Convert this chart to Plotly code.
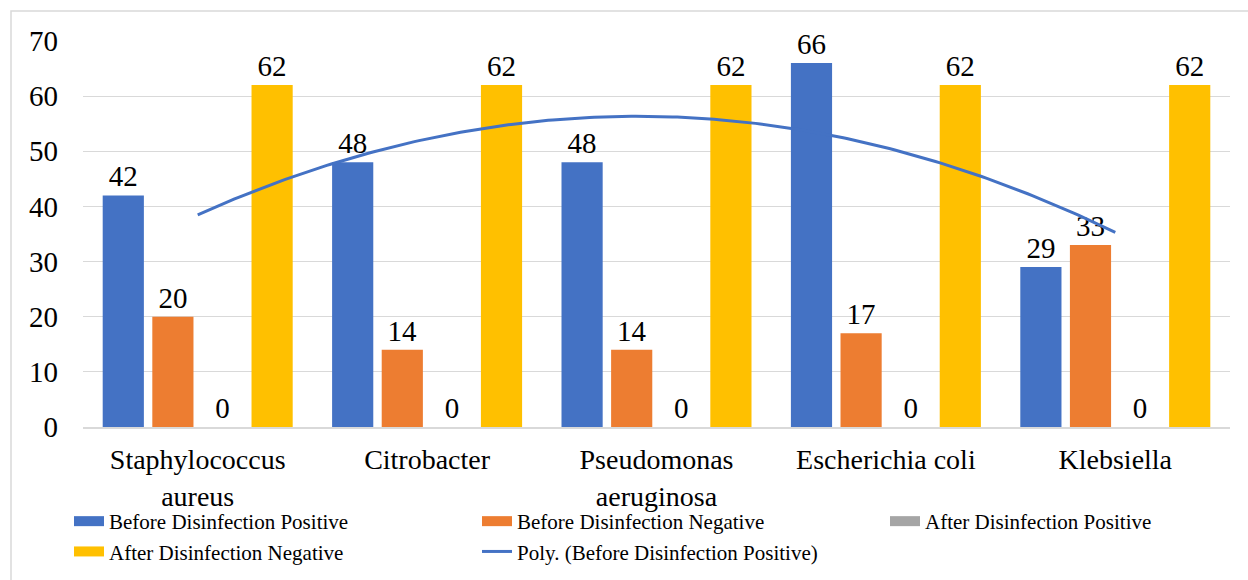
import numpy as np
import plotly.graph_objects as go

categories = ["Staphylococcus<br>aureus", "Citrobacter", "Pseudomonas<br>aeruginosa", "Escherichia coli", "Klebsiella"]
before_pos = [42, 48, 48, 66, 29]
before_neg = [20, 14, 14, 17, 33]
after_pos = [0, 0, 0, 0, 0]
after_neg = [62, 62, 62, 62, 62]
y_ticks = [0, 10, 20, 30, 40, 50, 60, 70]

series = [
    ("Before Disinfection Positive", before_pos, "#4472C4"),
    ("Before Disinfection Negative", before_neg, "#ED7D31"),
    ("After Disinfection Positive", after_pos, "#A5A5A5"),
    ("After Disinfection Negative", after_neg, "#FFC000"),
]

W, H = 1248, 580
L, R, T, B = 83, 18, 41, 153
PW, PH = W - L - R, H - T - B

FONT = "Liberation Serif, Times New Roman, serif"
xs = list(range(len(categories)))

fig = go.Figure()
for name, vals, col in series:
    fig.add_trace(go.Bar(
        x=xs, y=vals, name=name, marker=dict(color=col, line=dict(width=0)),
        text=vals, textposition="outside", cliponaxis=False,
        textfont=dict(family=FONT, size=29, color="#000000"),
        showlegend=False,
    ))

# polynomial (order 2) trendline of Before Disinfection Positive
coef = np.polyfit(np.arange(1, 6), before_pos, 2)
xt = np.linspace(1, 5, 200)
yt = np.polyval(coef, xt)
fig.add_trace(go.Scatter(x=xt - 1, y=yt, mode="lines", line=dict(color="#4472C4", width=3),
                         showlegend=False, hoverinfo="skip"))

# legend entries
for name, vals, col in series:
    fig.add_trace(go.Scatter(x=[None], y=[None], mode="lines", name=name,
                             line=dict(color=col, width=10)))
fig.add_trace(go.Scatter(x=[None], y=[None], mode="lines", name="Poly. (Before Disinfection Positive)",
                         line=dict(color="#4472C4", width=3)))

fig.update_layout(
    width=W, height=H,
    margin=dict(l=L, r=R, t=T, b=B, pad=0, autoexpand=False),
    paper_bgcolor="white", plot_bgcolor="white",
    barmode="group", bargap=0.135, bargroupgap=0.17,
    font=dict(family=FONT, color="#000000"),
    legend=dict(orientation="h", x=(69 - L) / PW, xanchor="left", y=(H - B - 501) / PH, yanchor="top",
                font=dict(family=FONT, size=21, color="#000000"),
                entrywidth=363, entrywidthmode="pixels", traceorder="normal",
                bgcolor="rgba(0,0,0,0)"),
    xaxis=dict(tickmode="array", tickvals=xs, ticktext=categories, range=[-0.5, 4.5],
               showgrid=False, showline=True, linecolor="#D9D9D9", linewidth=1.5,
               ticks="", tickfont=dict(family=FONT, size=28, color="#000000"),
               ticklabelstandoff=7, zeroline=False),
    yaxis=dict(range=[0, 70], tickmode="array", tickvals=y_ticks, showgrid=True,
               gridcolor="#D9D9D9", gridwidth=1, zeroline=False, showline=False,
               ticks="", tickfont=dict(family=FONT, size=29, color="#000000"),
               ticklabelstandoff=24),
    shapes=[dict(type="rect", xref="paper", yref="paper",
                 x0=(11 - L) / PW, x1=(W + 20 - L) / PW,
                 y0=(H - B - (H + 20)) / PH, y1=(H - B - 11) / PH,
                 line=dict(color="#D9D9D9", width=1.5), fillcolor="rgba(0,0,0,0)", layer="below")],
)

fig.write_html("out.html", config={"displayModeBar": False},
               post_script="document.body.style.margin='0';document.body.style.overflow='hidden';")
